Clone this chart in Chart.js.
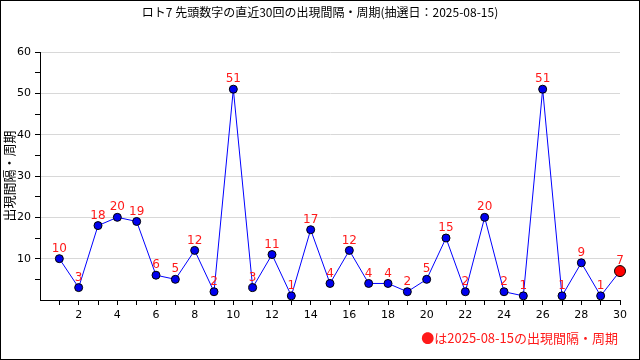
<!DOCTYPE html>
<html>
<head>
<meta charset="utf-8">
<script src="https://cdn.jsdelivr.net/npm/chart.js@4"></script>
<style>
  html, body { margin: 0; padding: 0; background: #fff; }
  #wrap { width: 640px; height: 360px; position: relative; }
</style>
</head>
<body>
<div id="wrap"><canvas id="c" width="640" height="360"></canvas></div>
<script>
// 直近30回の出現間隔
const draws = [1,2,3,4,5,6,7,8,9,10,11,12,13,14,15,16,17,18,19,20,21,22,23,24,25,26,27,28,29,30];
const gaps = [10,3,18,20,19,6,5,12,2,51,3,11,1,17,4,12,4,4,2,5,15,2,20,2,1,51,1,9,1,7];
const titleText = 'ロト7 先頭数字の直近30回の出現間隔・周期(抽選日：2025-08-15)';
const yTitle = '出現間隔・周期';
const noteText = '●は2025-08-15の出現間隔・周期';

const jpFont = '"Noto Sans CJK JP", "DejaVu Sans", sans-serif';
const lastIdx = gaps.length - 1;

// 点の上に赤い数値、枠・タイトル類
const decor = {
  id: 'decor',
  afterDatasetsDraw(chart) {
    const ctx = chart.ctx;
    const meta = chart.getDatasetMeta(0);
    ctx.save();
    ctx.fillStyle = '#ff1a1a';
    ctx.font = '12px "DejaVu Sans", sans-serif';
    ctx.textAlign = 'center';
    ctx.textBaseline = 'bottom';
    meta.data.forEach((pt, i) => {
      ctx.fillText(String(gaps[i]), pt.x, pt.y - 4);
    });
    ctx.restore();
  },
  afterDraw(chart) {
    const ctx = chart.ctx;
    ctx.save();
    ctx.fillStyle = '#000';
    ctx.font = '12px ' + jpFont;
    ctx.textAlign = 'center';
    ctx.textBaseline = 'middle';
    ctx.fillText(titleText, 320, 12);

    ctx.font = '13px ' + jpFont;
    ctx.translate(9, 176);
    ctx.rotate(-Math.PI / 2);
    ctx.fillText(yTitle, 0, 0);
    ctx.restore();

    ctx.save();
    ctx.fillStyle = '#ff1a1a';
    ctx.font = '13px ' + jpFont;
    ctx.textAlign = 'right';
    ctx.textBaseline = 'middle';
    ctx.fillText(noteText, 618, 338);
    ctx.restore();

    ctx.save();
    ctx.strokeStyle = '#000';
    ctx.lineWidth = 2;
    ctx.strokeRect(0, 0, 640, 360);
    ctx.restore();
  }
};

new Chart(document.getElementById('c'), {
  type: 'line',
  data: {
    datasets: [{
      data: draws.map((d, i) => ({ x: d, y: gaps[i] })),
      borderColor: '#0000ff',
      borderWidth: 1,
      tension: 0,
      clip: false,
      pointBackgroundColor: gaps.map((v, i) => i === lastIdx ? '#ff0000' : '#0000ee'),
      pointBorderColor: '#000',
      pointBorderWidth: 1,
      pointRadius: gaps.map((v, i) => i === lastIdx ? 5.5 : 4)
    }]
  },
  options: {
    responsive: false,
    animation: false,
    layout: { padding: { top: 52, right: 20, left: 0, bottom: 0 } },
    plugins: {
      legend: { display: false },
      tooltip: { enabled: false },
      title: { display: false }
    },
    scales: {
      x: {
        type: 'linear',
        min: 0,
        max: 30,
        afterFit: s => { s.height = 60; },
        ticks: {
          stepSize: 1,
          autoSkip: false,
          maxRotation: 0,
          color: '#000',
          font: { size: 11, family: '"DejaVu Sans", sans-serif' },
          padding: 4,
          callback: v => (v > 0 && v % 2 === 0) ? String(v) : ''
        },
        grid: {
          color: 'rgba(0,0,0,0)',
          tickColor: ctx => ctx.tick && ctx.tick.value > 0 ? '#000' : 'rgba(0,0,0,0)',
          tickLength: 5,
          drawOnChartArea: false
        },
        border: { color: '#000', width: 1 }
      },
      y: {
        min: 0,
        max: 60,
        afterFit: s => { s.width = 40; },
        ticks: {
          stepSize: 5,
          color: '#000',
          font: { size: 11, family: '"DejaVu Sans", sans-serif' },
          padding: 4,
          callback: v => (v > 0 && v % 10 === 0) ? String(v) : ''
        },
        grid: {
          color: ctx => ctx.tick && ctx.tick.value > 0 && ctx.tick.value % 10 === 0 ? '#d8d8d8' : 'rgba(0,0,0,0)',
          tickColor: ctx => ctx.tick && ctx.tick.value > 0 ? '#000' : 'rgba(0,0,0,0)',
          tickLength: 5
        },
        border: { color: '#000', width: 1 }
      }
    }
  },
  plugins: [decor]
});
</script>
</body>
</html>
